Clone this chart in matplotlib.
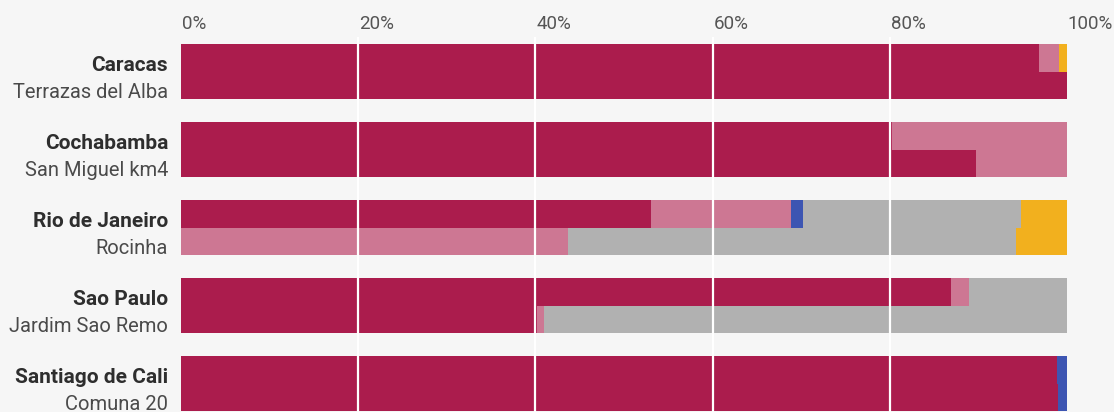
#!/usr/bin/env python3
import matplotlib.pyplot as plt
import numpy as np

cities = ["Caracas", "Cochabamba", "Rio de Janeiro", "Sao Paulo", "Santiago de Cali"]
places = ["Terrazas del Alba", "San Miguel km4", "Rocinha", "Jardim Sao Remo", "Comuna 20"]

# shares in % -- city-wide (top bar of each pair)
city_crimson = [96.8, 80.2, 53.0, 86.9, 98.9]
city_rose    = [2.3, 19.8, 15.8, 2.0, 0.0]
city_blue    = [0.0, 0.0, 1.4, 0.0, 1.1]
city_grey    = [0.0, 0.0, 24.6, 11.1, 0.0]
city_amber   = [0.9, 0.0, 5.2, 0.0, 0.0]

# shares in % -- neighbourhood (bottom bar of each pair)
place_crimson = [100.0, 89.7, 0.0, 40.2, 99.0]
place_rose    = [0.0, 10.3, 43.7, 0.8, 0.0]
place_blue    = [0.0, 0.0, 0.0, 0.0, 1.0]
place_grey    = [0.0, 0.0, 50.5, 59.0, 0.0]
place_amber   = [0.0, 0.0, 5.8, 0.0, 0.0]

ticks = [0, 20, 40, 60, 80, 100]

colors = ["#ab1c4d", "#cd7793", "#3d55b2", "#b1b1b1", "#f2b01e"]
bg = "#f6f6f6"

plt.rcParams["font.family"] = ["Roboto", "DejaVu Sans"]

fig = plt.figure(figsize=(11.14, 4.12), dpi=100, facecolor=bg)
ax = fig.add_axes([181 / 1114, 0, 886 / 1114, 1])
ax.set_facecolor(bg)

y = np.arange(len(cities))
h = 0.3525

def stack(rows, yy):
    left = np.zeros(len(cities))
    for vals, c in zip(rows, colors):
        vals = np.array(vals)
        ax.barh(yy, vals, left=left, height=h, color=c, linewidth=0, zorder=2)
        left += vals

stack([city_crimson, city_rose, city_blue, city_grey, city_amber], y - h / 2)
stack([place_crimson, place_rose, place_blue, place_grey, place_amber], y + h / 2)

ax.set_xlim(0, 100)
ax.set_ylim(4.365, -0.917)

# white grid lines over the bars
ax.vlines(ticks[1:-1], -0.44, 4.365, color="white", linewidth=1.6, zorder=3)

for t in ticks:
    ax.text(t + 0.1, -0.61, f"{t}%", ha="left", va="center", fontsize=13.5,
            color="#555555")

for i in range(len(cities)):
    ax.text(-1.45, i - 0.01, cities[i], ha="right", va="baseline", fontsize=15,
            color="#2e2e2e", fontweight="bold")
    ax.text(-1.45, i + 0.34, places[i], ha="right", va="baseline", fontsize=14.5,
            color="#4a4a4a")

ax.set_xticks([])
ax.set_yticks([])
for s in ax.spines.values():
    s.set_visible(False)

plt.savefig("out.png", dpi=100, facecolor=bg)
